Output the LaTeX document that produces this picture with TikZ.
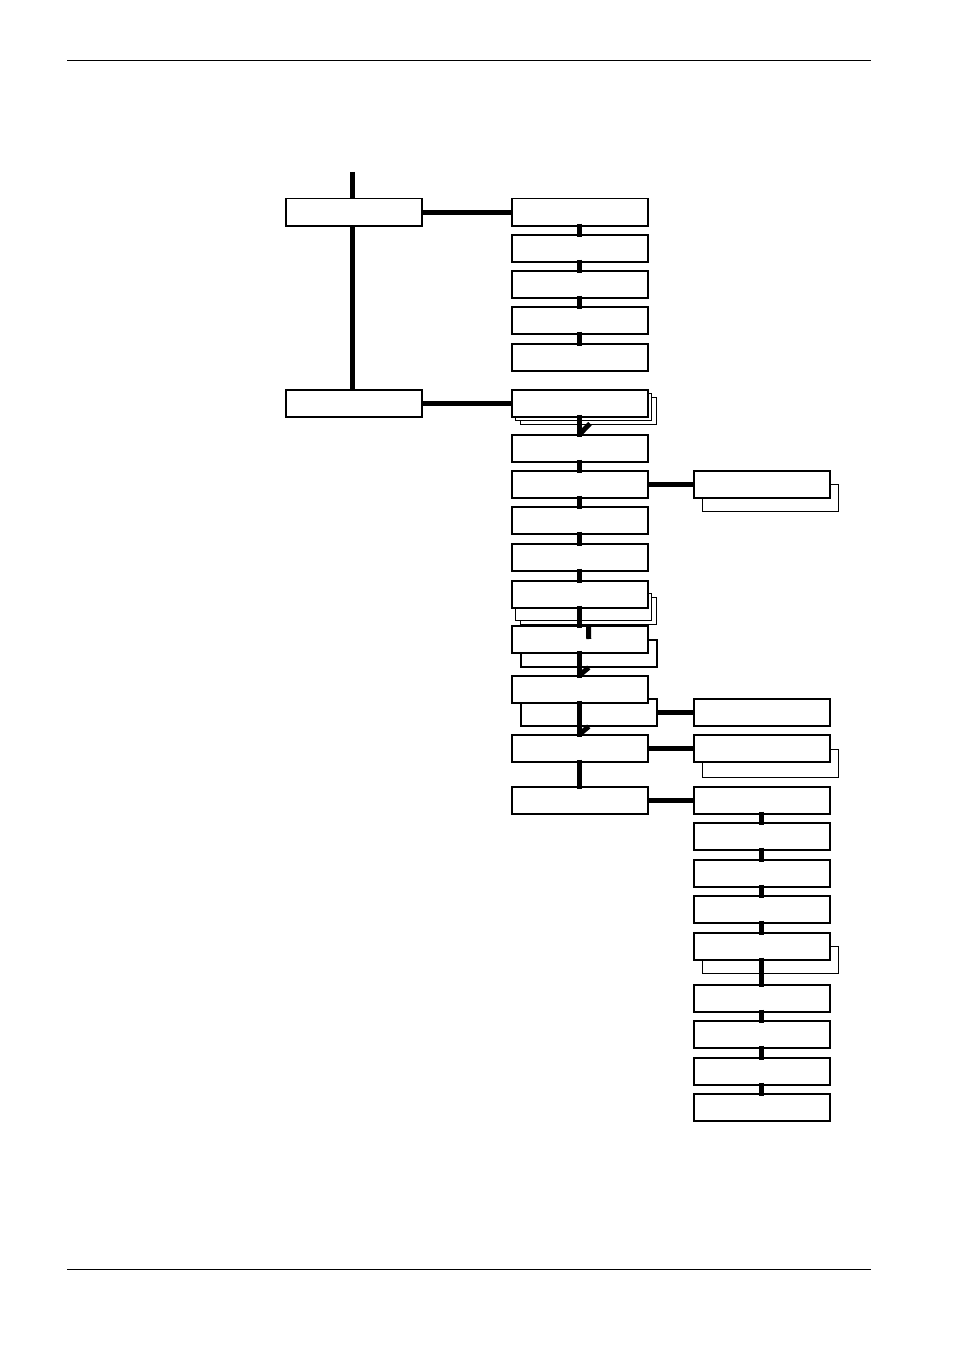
\documentclass[tikz,border=0pt]{standalone}
\begin{document}
\begin{tikzpicture}[x=1pt,y=-1pt,
 box/.style={draw,fill=white,line width=1.5pt,minimum width=136pt,minimum height=27pt,anchor=north west,inner sep=0pt},
 sh/.style={draw,fill=white,line width=1.1pt,minimum width=136pt,inner sep=0pt,anchor=north west},
 con/.style={line width=5pt}]
\useasboundingbox (0,0) rectangle (954,1351);
\draw[line width=0.7pt] (67,60) -- (871,60) (67,1269) -- (871,1269);
% column A
\node[box] (a1) at (285,198) {};
\node[box] (a2) at (285,389) {};
\coordinate (top) at (352,172);
\draw[con] (top) -- (a1.north -| top);
\draw[con] (a1.south -| top) -- (a2.north -| top);
% column B shadows
\node[sh,minimum height=27pt] (s6b) at (520,397) {};
\node[sh,minimum height=27pt] (s6a) at (515,393) {};
\node[sh,minimum height=27pt] (s10b) at (520,597) {};
\node[sh,minimum height=27pt] (s10a) at (515,593) {};
\node[sh,minimum height=27pt,line width=1.5pt] (s11) at (520,639) {};
\node[sh,minimum height=27pt,line width=1.5pt] (s12) at (520,698) {};
\foreach \i/\y in {1/198,2/234,3/270,4/306,5/343,6/389,7/434,8/470,9/506,10/580,11/625,12/675,13/734,14/786,15/543}
  \node[box] (b\i) at (511,\y) {};
% column C shadows
\node[sh,minimum height=27pt] (sc1) at (702,484) {};
\node[sh,minimum height=28pt] (sc3) at (702,749) {};
\node[sh,minimum height=27pt] (sc8) at (702,946) {};
\foreach \i/\y in {1/470,2/698,3/734,4/786,5/822,6/859,7/895,8/932,9/984,10/1020,11/1057,12/1093}
  \node[box] (c\i) at (693,\y) {};
% connectors
\begin{scope}[on background layer/.style={}]
\end{scope}
\foreach \p/\q in {b1/b2,b2/b3,b3/b4,b4/b5,b6/b7,b7/b8,b8/b9,b9/b15,b15/b10,b10/b11,b11/b12,b12/b13,b13/b14,
  c4/c5,c5/c6,c6/c7,c7/c8,c8/c9,c9/c10,c10/c11,c11/c12}
  \draw[con,shorten <=-3pt,shorten >=-3pt] (\p.south) -- (\q.north);
\draw[con,shorten <=-2pt] (s6b.south) -- (b7.north);
\draw[con] (s10b.south) -- (s11.north);
\draw[con] (s11.south) -- (b12.north);
\draw[con] (s12.south) -- (b13.north);
\draw[con] (sc8.south -| c8.south) -- (c9.north);
\draw[con] (a1.east) -- (b1.west);
\draw[con] (a2.east) -- (b6.west);
\draw[con] (b8.east) -- (c1.west);
\draw[con] (s12.east) -- (c2.west);
\draw[con] (b13.east) -- (c3.west);
\draw[con] (b14.east) -- (c4.west);
\end{tikzpicture}
\end{document}
